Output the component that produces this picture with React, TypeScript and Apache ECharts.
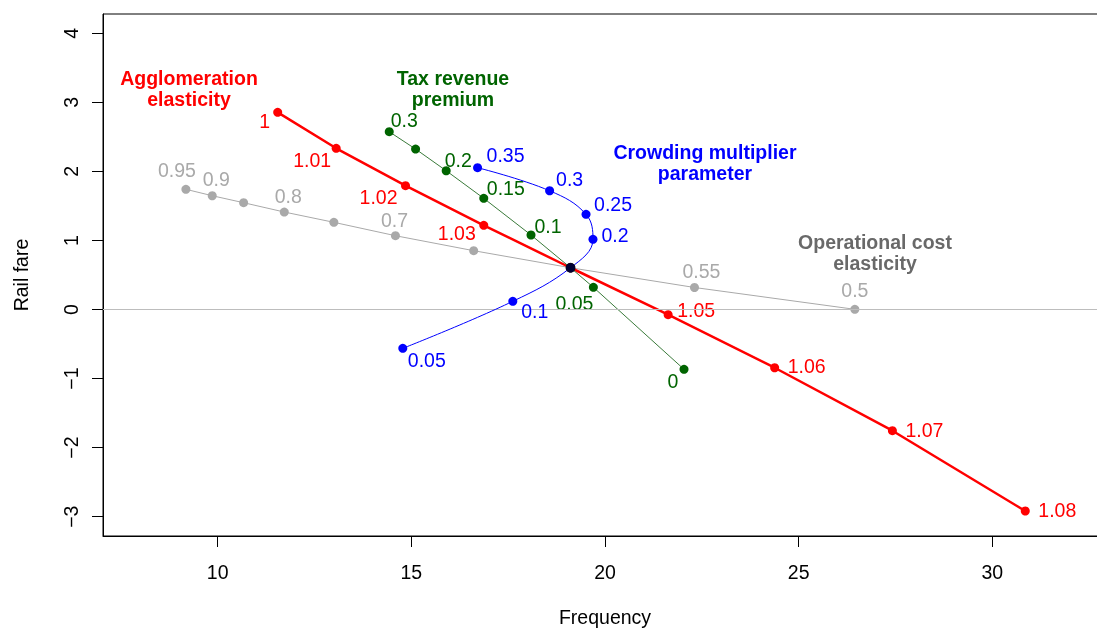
import React, { useEffect, useRef } from "react";
import * as echarts from "echarts";

// ---- axis ticks ----
const xTicks = [10, 15, 20, 25, 30];
const yTicks = [-3, -2, -1, 0, 1, 2, 3, 4];

// ---- shared baseline point ----
const baseX = 19.11;
const baseY = 0.605;

// ---- Agglomeration elasticity (red) ----
const aggLabels = ["1", "1.01", "1.02", "1.03", "", "1.05", "1.06", "1.07", "1.08"];
const aggX = [11.55, 13.06, 14.85, 16.87, 19.11, 21.63, 24.38, 27.42, 30.85];
const aggY = [2.856, 2.335, 1.793, 1.219, 0.605, -0.075, -0.843, -1.755, -2.918];

// ---- Tax revenue premium (green) ----
const taxLabels = ["0.3", "", "0.2", "0.15", "0.1", "", "0.05", "0"];
const taxX = [14.43, 15.11, 15.9, 16.87, 18.09, 19.11, 19.7, 22.04];
const taxY = [2.575, 2.324, 2.01, 1.61, 1.079, 0.605, 0.322, -0.866];

// ---- Crowding multiplier parameter (blue) ----
const crowdLabels = ["0.05", "0.1", "", "0.2", "0.25", "0.3", "0.35"];
const crowdX = [14.78, 17.62, 19.11, 19.69, 19.51, 18.57, 16.71];
const crowdY = [-0.562, 0.119, 0.605, 1.017, 1.379, 1.72, 2.054];

// ---- Operational cost elasticity (grey) ----
const opLabels = ["0.95", "0.9", "", "0.8", "", "0.7", "", "", "0.55", "0.5"];
const opX = [9.18, 9.86, 10.67, 11.72, 13.0, 14.59, 16.61, 19.11, 22.31, 26.45];
const opY = [1.741, 1.648, 1.547, 1.412, 1.263, 1.069, 0.852, 0.605, 0.319, 0.003];

// ---- label placement styles (offset of label centre from point, px) ----
const aggOffsets = [[-13, 9], [-24, 12], [-27, 11], [-27, 8], [0, 0], [28, -5], [32, -2], [32, -1], [32, -1]];
const taxOffsets = [[15, -12], [0, 0], [12, -11], [22, -10], [17, -9], [0, 0], [-19, 16], [-11, 12]];
const crowdOffsets = [[24, 12], [22, 10], [0, 0], [22, -4], [27, -10], [20, -12], [28, -13]];
const opOffsets = [[-9, -19], [4, -17], [0, 0], [4, -16], [0, 0], [-1, -16], [0, 0], [0, 0], [7, -16], [0, -19]];

const FONT = "'Liberation Sans', Arial, sans-serif";
const FS = 19.5;
const SYM = 9;
const W = 1097;
const H = 630;

function buildData(xs: number[], ys: number[], labels: string[], offs: number[][], color: string) {
  return xs.map((x, i) => {
    const item: any = { value: [x, ys[i]] };
    if (labels[i]) {
      item.label = {
        show: true,
        formatter: labels[i],
        position: [SYM / 2 + offs[i][0], SYM / 2 + offs[i][1]],
        align: "center",
        verticalAlign: "middle",
        color,
        fontSize: FS,
        fontFamily: FONT,
      };
    } else {
      item.label = { show: false };
    }
    return item;
  });
}

export default function App() {
  const ref = useRef<HTMLDivElement>(null);

  useEffect(() => {
    const chart = echarts.init(ref.current!, null, { renderer: "svg", width: W, height: H });

    const RED = "#ff0000";
    const GREEN = "#006400";
    const BLUE = "#0000ff";
    const GREY = "#a9a9a9";

    const titleStyle = (text: string, x: number, y: number, fill: string) => ({
      type: "text",
      x,
      y,
      style: {
        text,
        fill,
        font: `bold ${FS}px ${FONT}`,
        textAlign: "center",
        textVerticalAlign: "middle",
        lineHeight: 21,
      },
    });

    chart.setOption({
      animation: false,
      grid: {
        left: 103,
        top: 14,
        right: -10,
        bottom: 94,
        containLabel: false,
        outerBoundsMode: "none",
        show: true,
        borderColor: "#000",
        borderWidth: 1,
        backgroundColor: "transparent",
      },
      xAxis: {
        type: "value",
        min: 7.04,
        max: 32.96,
        name: "Frequency",
        nameLocation: "middle",
        nameGap: 71,
        nameTextStyle: { color: "#000", fontSize: FS, fontFamily: FONT, verticalAlign: "top" },
        axisLine: { show: true, onZero: false, lineStyle: { color: "#000", width: 1 } },
        axisTick: { show: true, inside: false, length: 11, lineStyle: { color: "#000" }, customValues: xTicks },
        axisLabel: { color: "#000", fontSize: FS, fontFamily: FONT, margin: 26, customValues: xTicks },
        splitLine: { show: false },
      },
      yAxis: {
        type: "value",
        min: -3.28,
        max: 4.28,
        name: "Rail fare",
        nameLocation: "middle",
        nameGap: 72,
        nameTextStyle: { color: "#000", fontSize: FS, fontFamily: FONT },
        axisLine: { show: true, onZero: false, lineStyle: { color: "#000", width: 1 } },
        axisTick: { show: true, inside: false, length: 11, lineStyle: { color: "#000" }, customValues: yTicks },
        axisLabel: {
          color: "#000",
          fontSize: FS,
          fontFamily: FONT,
          rotate: 90,
          margin: 22,
          customValues: yTicks,
          formatter: (v: number) => String(v).replace("-", "\u2212"),
        },
        splitLine: { show: false },
      },
      graphic: [
        titleStyle("Agglomeration\nelasticity", 189, 88, RED),
        titleStyle("Tax revenue\npremium", 453, 88, GREEN),
        titleStyle("Crowding multiplier\nparameter", 705, 162, BLUE),
        titleStyle("Operational cost\nelasticity", 875, 252, "#696969"),
      ],
      series: [
        {
          type: "line",
          name: "Operational cost elasticity",
          data: buildData(opX, opY, opLabels, opOffsets, GREY),
          symbol: "circle",
          symbolSize: SYM,
          itemStyle: { color: GREY },
          lineStyle: { color: GREY, width: 1 },
          z: 2,
          markLine: {
            silent: true,
            symbol: "none",
            label: { show: false },
            lineStyle: { color: "#bdbdbd", width: 1, type: "solid" },
            data: [{ yAxis: 0 }],
          },
        },
        {
          type: "line",
          name: "Agglomeration elasticity",
          data: buildData(aggX, aggY, aggLabels, aggOffsets, RED),
          symbol: "circle",
          symbolSize: SYM,
          itemStyle: { color: RED },
          lineStyle: { color: RED, width: 2.5 },
          z: 3,
        },
        {
          type: "line",
          name: "Tax revenue premium",
          data: buildData(taxX, taxY, taxLabels, taxOffsets, GREEN),
          symbol: "circle",
          symbolSize: SYM,
          itemStyle: { color: GREEN },
          lineStyle: { color: "#3a7a3a", width: 1 },
          z: 4,
        },
        {
          type: "line",
          name: "Crowding multiplier parameter",
          data: buildData(crowdX, crowdY, crowdLabels, crowdOffsets, BLUE),
          symbol: "circle",
          symbolSize: SYM,
          smooth: 0.4,
          itemStyle: { color: BLUE },
          lineStyle: { color: BLUE, width: 1 },
          z: 5,
        },
        {
          type: "scatter",
          name: "Baseline",
          data: [[baseX, baseY]],
          symbol: "circle",
          symbolSize: SYM + 1,
          itemStyle: { color: "#000" },
          z: 10,
        },
      ],
    });

    return () => chart.dispose();
  }, []);

  return (
    <div
      ref={ref}
      style={{ position: "fixed", left: 0, top: 0, width: W, height: H, overflow: "hidden" }}
    />
  );
}
